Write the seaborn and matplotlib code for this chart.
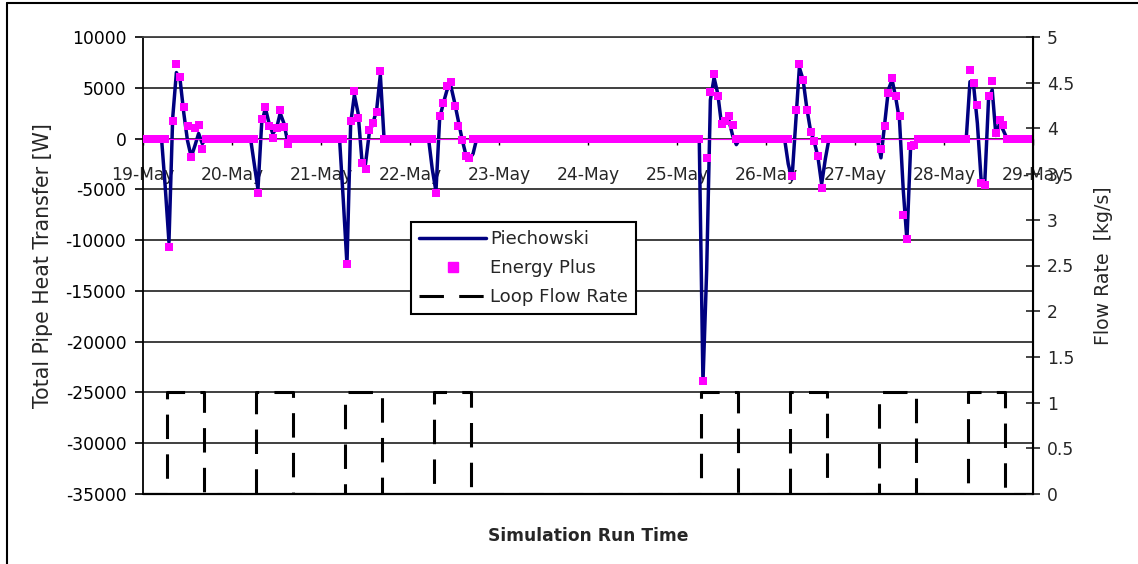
import numpy as np
import pandas as pd
import matplotlib
matplotlib.use("Agg")
import matplotlib.pyplot as plt
import seaborn as sns
from matplotlib.lines import Line2D
from matplotlib.ticker import FuncFormatter, MultipleLocator

# Calendar labels for the ten-day run (one tick per midnight)
date_labels = ["19-May", "20-May", "21-May", "22-May", "23-May", "24-May",
               "25-May", "26-May", "27-May", "28-May", "29-May"]

# Days (counted from 19-May) on which the loop was running
event_days = [0, 1, 2, 3, 6, 7, 8, 9]
# Hourly values for each running day, starting at 06:00
event_first_hour = 6

piechowski_events = [
    [-4800, -10200, 2000, 6500, 5800, 2500, -200, -1800, -700, 500, -500, 0, 0],
    [-2500, -5000, 1500, 3000, 1500, 500, 1000, 2500, 1500, -300, 0, 0, 0],
    [-6000, -12400, 1500, 4300, 2500, -2000, -2500, 500, 1500, 2800, 6300, 0, 0],
    [-3000, -5200, 2000, 3500, 4800, 5200, 3600, 1800, 0, -1500, -2000, -1500, 0],
    [0, -24000, -13000, 3800, 6000, 4400, 1400, 1500, 1800, 300, -600, 0, 0],
    [-2500, -4000, 1500, 7000, 5800, 3000, 800, -300, -1800, -4500, -2000, 0, 0],
    [0, -1900, 1500, 4800, 5800, 4000, 1800, -5000, -10000, -800, -500, 0, 0],
    [0, 5600, 5200, 1500, -4000, -4300, 3800, 4800, 300, 1500, 800, 0, 0],
]

energyplus_events = [
    [0, -10700, 1770, 7380, 6100, 3150, 1280, -1770, 1000, 1380, -1000, 0, 0],
    [0, -5350, 1940, 3150, 1200, 100, 1000, 2850, 1150, -500, 0, 0, 0],
    [0, -12400, 1700, 4700, 2000, -2400, -3000, 800, 1500, 2600, 6700, 0, 0],
    [0, -5350, 2260, 3510, 5150, 5580, 3180, 1280, -100, -1670, -1900, 0, 0],
    [0, -23880, -1900, 4560, 6400, 4160, 1480, 1700, 2200, 1380, 0, 0, 0],
    [0, -3700, 2790, 7380, 5740, 2790, 620, -260, -1670, -4850, 0, 0, 0],
    [0, -1000, 1280, 4500, 5970, 4160, 2260, -7480, -9870, -760, -590, 0, 0],
    [0, 6790, 5480, 3350, -4360, -4530, 4160, 5640, 560, 1870, 1380, 0, 0],
]

# Pump flow on a running day, hourly from 06:00 [kg/s]
flow_profile = [0.0, 1.12, 1.12, 1.12, 1.12, 1.12, 1.12, 1.12, 1.12, 1.12, 1.12, 0.0, 0.0]

hours = np.arange(len(date_labels) * 24 - 23)
piechowski = np.zeros(len(hours))
energyplus = np.zeros(len(hours))
flow = np.zeros(len(hours))
for day, pv, ev in zip(event_days, piechowski_events, energyplus_events):
    start = day * 24 + event_first_hour
    piechowski[start:start + len(pv)] = pv
    energyplus[start:start + len(ev)] = ev
    flow[start:start + len(flow_profile)] = flow_profile

df = pd.DataFrame({"hour": hours, "Piechowski": piechowski,
                   "Energy Plus": energyplus, "Loop Flow Rate": flow})

sns.set_style("white")
plt.rcParams["font.family"] = ["DejaVu Sans"]
plt.rcParams["axes.unicode_minus"] = False
FS = 12.3

W, H = 1138, 564
fig = plt.figure(figsize=(W / 100, H / 100), dpi=100)
ax = fig.add_axes([143 / W, 1 - 494 / H, 890 / W, 457 / H])

sns.lineplot(data=df, x="hour", y="Piechowski", ax=ax, color="#000080",
             linewidth=2.5, legend=False, zorder=2)
sns.scatterplot(data=df, x="hour", y="Energy Plus", ax=ax, color="#FF00FF",
                marker="s", s=36, linewidth=0, legend=False, zorder=3)

ax.set_xlim(0, hours[-1])
ax.set_ylim(-35000, 10000)
ax.yaxis.set_major_locator(MultipleLocator(5000))
ax.set_xticks(np.arange(0, hours[-1] + 1, 24))
ax.set_xticklabels(date_labels)
ax.grid(axis="y", color="#303030", linewidth=1.3)
ax.grid(axis="x", visible=False)
ax.set_axisbelow(True)

# Category axis crosses the value axis at zero
ax.spines["bottom"].set_position(("data", 0))
ax.spines["bottom"].set_color("#FF00FF")
ax.spines["top"].set_color("#404040")
ax.spines["top"].set_linewidth(1.3)
ax.spines["left"].set_color("black")
ax.spines["left"].set_linewidth(1.3)
ax.axhline(-35000, color="black", linewidth=1.6, clip_on=False, zorder=1)

ax.tick_params(axis="y", direction="out", length=6, width=1.2, pad=6,
               labelsize=FS, colors="black", left=True)
ax.tick_params(axis="x", direction="out", length=4, width=1.0, pad=16,
               labelsize=FS, bottom=True, color="black")

ax.set_ylabel("Total Pipe Heat Transfer [W]", fontsize=14.8, labelpad=9)
ax.set_xlabel("Simulation Run Time", fontsize=FS, fontweight="bold")
ax.xaxis.set_label_coords(0.5, -0.072)

ax2 = ax.twinx()
sns.lineplot(data=df, x="hour", y="Loop Flow Rate", ax=ax2, color="black",
             linewidth=2.2, legend=False, drawstyle="steps-mid")
ax2.lines[0].set_dashes((8, 5))
ax2.set_ylim(0, 5)
ax2.yaxis.set_major_locator(MultipleLocator(0.5))
ax2.yaxis.set_major_formatter(FuncFormatter(lambda v, p: f"{v:g}"))
ax2.tick_params(axis="y", direction="inout", length=10, width=1.2, pad=5,
                labelsize=FS, right=True)
for side in ("left", "top", "bottom"):
    ax2.spines[side].set_visible(False)
ax2.spines["right"].set_color("black")
ax2.spines["right"].set_linewidth(1.5)
ax2.set_ylabel("Flow Rate  [kg/s]", fontsize=13.6, labelpad=14)

handles = [
    Line2D([], [], color="#000080", linewidth=2.5),
    Line2D([], [], color="#FF00FF", marker="s", markersize=7, linestyle="none"),
    Line2D([], [], color="black", linewidth=2.2, dashes=(8, 5)),
]
leg = ax2.legend(handles, ["Piechowski", "Energy Plus", "Loop Flow Rate"],
                 loc="upper left", bbox_to_anchor=(0.301, 0.595),
                 borderaxespad=0, frameon=True, fancybox=False,
                 edgecolor="black", framealpha=1, fontsize=13.1,
                 handlelength=3.7, handletextpad=0.2, labelspacing=0.6,
                 borderpad=0.45)
leg.get_frame().set_linewidth(1.5)

# Outer chart frame
fig.add_artist(Line2D([7 / W, 7 / W], [0, 1 - 3 / H], transform=fig.transFigure,
                      color="black", linewidth=1.5))
fig.add_artist(Line2D([7 / W, 1], [1 - 3 / H, 1 - 3 / H], transform=fig.transFigure,
                      color="black", linewidth=1.5))

fig.savefig("out.png", dpi=100)
